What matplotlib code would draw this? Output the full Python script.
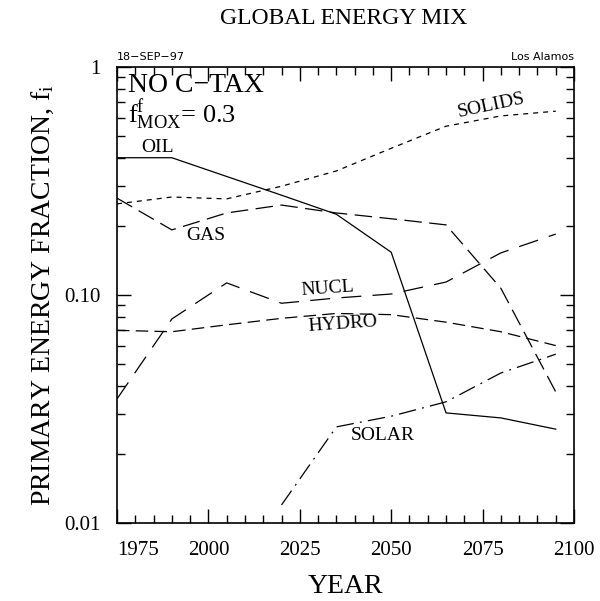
import matplotlib
matplotlib.use("Agg")
import matplotlib.pyplot as plt
from matplotlib.ticker import FixedLocator, LogLocator, NullFormatter

plt.rcParams['font.family'] = ['Liberation Serif', 'DejaVu Serif']
plt.rcParams['mathtext.fontset'] = 'custom'
plt.rcParams['mathtext.rm'] = 'Liberation Serif'
plt.rcParams['mathtext.it'] = 'Liberation Serif'

years = [1975, 1990, 2005, 2020, 2035, 2050, 2065, 2080, 2095]
oil = [0.40, 0.40, 0.331, 0.274, 0.226, 0.154, 0.0304, 0.0289, 0.0258]
solids = [0.251, 0.269, 0.264, 0.30, 0.35, 0.44, 0.55, 0.61, 0.64]
gas = [0.266, 0.193, 0.229, 0.248, 0.229, 0.216, 0.203, 0.107, 0.0376]
nucl = [0.035, 0.0785, 0.113, 0.092, 0.097, 0.101, 0.114, 0.153, 0.185]
hydro = [0.070, 0.069, 0.074, 0.079, 0.083, 0.082, 0.076, 0.069, 0.060]
solar_years = [2020, 2035, 2050, 2065, 2080, 2095]
solar = [0.012, 0.0264, 0.0294, 0.034, 0.0455, 0.055]

xticks = [1975, 2000, 2025, 2050, 2075, 2100]
yticks = [0.01, 0.1, 1]
ytick_labels = ['0.01', '0.10', '1']

W, H = 600, 601
fig = plt.figure(figsize=(6.0, 6.01), dpi=100)
ax = fig.add_axes([117/W, 1-523/H, 457/W, 456/H])

def px(x, y):
    return (x / W, 1 - y / H)

lw = 0.9
ax.plot(years, oil, color='black', lw=lw, linestyle='-')
ax.plot(years, solids, color='black', lw=lw, linestyle=(0, (4, 4)))
ax.plot(years, gas, color='black', lw=lw, linestyle=(0, (14, 6)))
ax.plot(years, nucl, color='black', lw=lw, linestyle=(0, (16, 9)))
ax.plot(years, hydro, color='black', lw=lw, linestyle=(0, (10, 5)))
ax.plot(solar_years, solar, color='black', lw=lw, linestyle=(0, (14, 5, 1.5, 5)))

ax.set_yscale('log')
ax.set_xlim(1975, 2100)
ax.set_ylim(0.01, 1)

ax.xaxis.set_major_locator(FixedLocator(xticks))
ax.xaxis.set_minor_locator(FixedLocator(list(range(1975, 2101, 5))))
ax.set_xticklabels([str(t) for t in xticks])
ax.yaxis.set_major_locator(FixedLocator(yticks))
ax.set_yticklabels(ytick_labels)
ax.yaxis.set_minor_locator(LogLocator(base=10, subs=[2, 3, 4, 5, 6, 7, 8, 9]))
ax.yaxis.set_minor_formatter(NullFormatter())

ax.tick_params(which='both', direction='in', top=True, right=True, width=1.0, color='black')
ax.tick_params(which='major', length=10, labelsize=15)
ax.tick_params(which='minor', length=6)
ax.tick_params(axis='x', which='major', pad=13)
ax.tick_params(axis='y', which='major', pad=12)
for sp in ax.spines.values():
    sp.set_linewidth(1.2)
lbls = ax.get_xticklabels()
lbls[0].set_horizontalalignment('left')

ax.set_xlabel('YEAR', fontsize=20, labelpad=10)
ax.set_ylabel('PRIMARY ENERGY FRACTION, f$_\\mathrm{i}$', fontsize=20, labelpad=6)
fig.text(*px(344, 19), 'GLOBAL ENERGY MIX', fontsize=17, ha='center', va='center')
fig.text(*px(117, 57), '18\u2212SEP\u221297', fontsize=8, ha='left', va='center', family='DejaVu Sans')
fig.text(*px(574, 57), 'Los Alamos', fontsize=8, ha='right', va='center', family='DejaVu Sans')

fig.text(*px(128, 86), 'NO C\u2212TAX', fontsize=20, ha='left', va='center')
fig.text(*px(128, 115), 'f$^\\mathrm{f}_\\mathrm{MOX}$= 0.3', fontsize=19, ha='left', va='center')

lf = 14
fig.text(*px(158, 148), 'OIL', fontsize=lf, ha='center', va='center')
fig.text(*px(206, 236), 'GAS', fontsize=lf, ha='center', va='center')
fig.text(*px(491, 105), 'SOLIDS', fontsize=lf, ha='center', va='center', rotation=12)
fig.text(*px(328, 289), 'NUCL', fontsize=lf, ha='center', va='center', rotation=4)
fig.text(*px(343, 324), 'HYDRO', fontsize=lf, ha='center', va='center', rotation=4)
fig.text(*px(383, 435), 'SOLAR', fontsize=lf, ha='center', va='center')

fig.savefig('out.png', dpi=100)
